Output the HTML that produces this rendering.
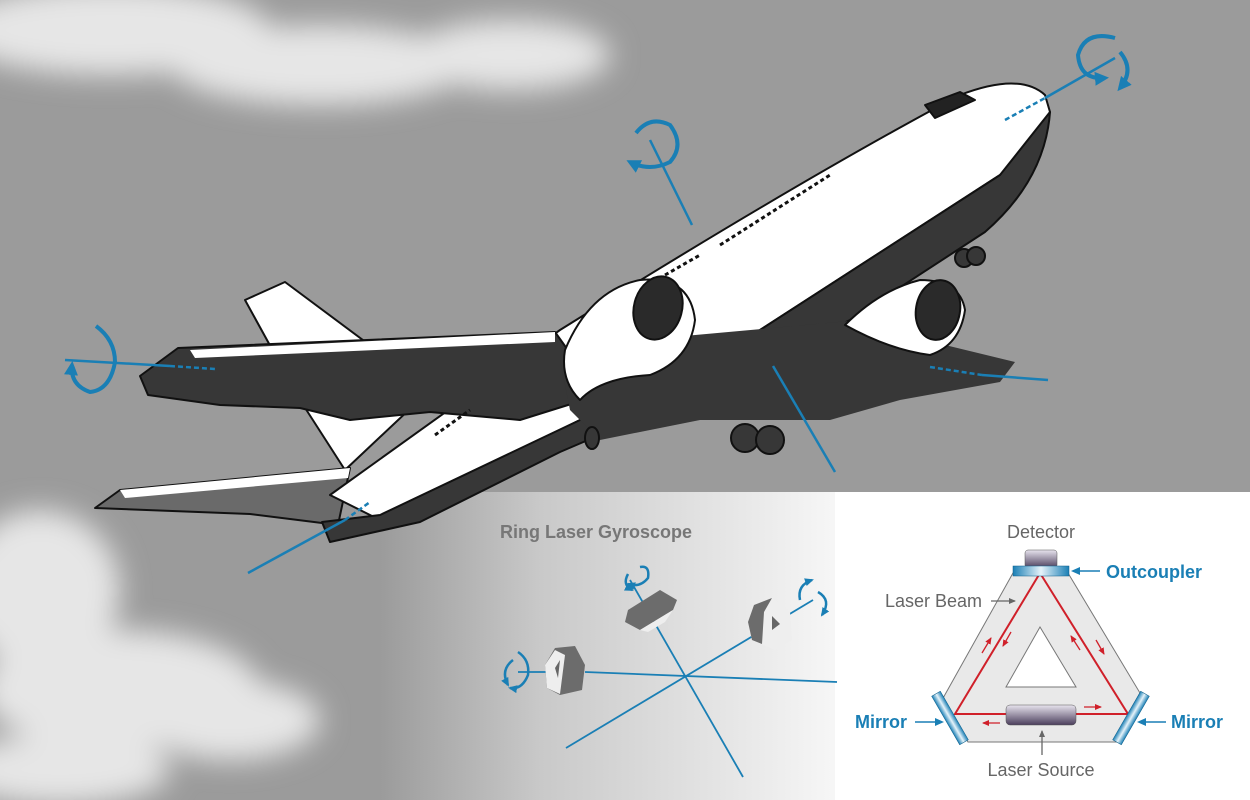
<!DOCTYPE html>
<html><head><meta charset="utf-8"><style>
html,body{margin:0;padding:0;width:1250px;height:800px;overflow:hidden;background:#9b9b9b;}
svg{display:block}
</style></head><body>
<svg width="1250" height="800" viewBox="0 0 1250 800" xmlns="http://www.w3.org/2000/svg" font-family="Liberation Sans, sans-serif">
<defs>
<filter id="bl" x="-50%" y="-50%" width="200%" height="200%"><feGaussianBlur stdDeviation="14"/></filter>
<linearGradient id="pan" x1="380" y1="0" x2="840" y2="0" gradientUnits="userSpaceOnUse">
<stop offset="0" stop-color="#9b9b9b"/><stop offset="0.35" stop-color="#c9c9c9"/><stop offset="1" stop-color="#f7f7f7"/></linearGradient>
<linearGradient id="blu" x1="0" y1="0" x2="1" y2="0"><stop offset="0" stop-color="#1a7fb5"/><stop offset="0.5" stop-color="#e6f3fa"/><stop offset="1" stop-color="#1a7fb5"/></linearGradient>
<linearGradient id="pur" x1="0" y1="0" x2="0" y2="1"><stop offset="0" stop-color="#e8e4ee"/><stop offset="1" stop-color="#4b3e5c"/></linearGradient>
<marker id="ah" markerUnits="userSpaceOnUse" markerWidth="16" markerHeight="16" refX="10" refY="8" orient="auto"><path d="M0,1 L14,8 L0,15 Z" fill="#1a7fb5"/></marker>
<marker id="ahs" markerUnits="userSpaceOnUse" markerWidth="10" markerHeight="10" refX="7" refY="5" orient="auto"><path d="M0,1 L9,5 L0,9 Z" fill="#1a7fb5"/></marker>
<marker id="ag" markerUnits="userSpaceOnUse" markerWidth="8" markerHeight="8" refX="6" refY="4" orient="auto"><path d="M0,1 L7,4 L0,7 Z" fill="#666"/></marker>
<marker id="ar" markerUnits="userSpaceOnUse" markerWidth="8" markerHeight="8" refX="6" refY="4" orient="auto"><path d="M0,1 L7,4 L0,7 Z" fill="#d0202a"/></marker>
</defs>
<g filter="url(#bl)" fill="#e6e6e6">
<ellipse cx="110" cy="30" rx="160" ry="45"/><ellipse cx="320" cy="65" rx="150" ry="40"/><ellipse cx="510" cy="55" rx="100" ry="35"/>
<ellipse cx="40" cy="590" rx="80" ry="80"/><ellipse cx="120" cy="690" rx="140" ry="60"/><ellipse cx="230" cy="720" rx="90" ry="40"/><ellipse cx="60" cy="770" rx="110" ry="35"/>
</g>
<rect x="380" y="492" width="870" height="308" fill="url(#pan)"/>
<rect x="835" y="492" width="415" height="308" fill="#fff"/>

<g stroke="#111" stroke-width="2" stroke-linejoin="round">
<polygon points="245,300 285,282 430,390 345,470 300,400" fill="#fff"/>
<polygon points="95,508 120,490 350,468 338,525 250,514" fill="#6a6a6a"/>
<polygon points="120,490 350,468 348,478 125,498" fill="#fff" stroke="none"/>
<path d="M330,495 L560,330 Q800,180 960,95 Q1020,72 1045,95 L1050,112 Q1040,140 1000,175 L760,330 L580,420 L380,520 Z" fill="#fff"/>
<path d="M1050,112 Q1045,180 985,232 L850,320 L700,392 L560,452 L420,522 L330,542 L322,522 L380,515 L580,420 L760,330 L1000,175 Z" fill="#373737"/>
<polygon points="140,376 178,348 555,332 600,395 520,420 430,412 350,420 300,408 220,405 148,395" fill="#373737"/>
<polygon points="190,350 555,332 555,342 195,358" fill="#fff" stroke="none"/>
<polygon points="560,360 640,340 860,320 945,345 1015,362 1000,382 900,400 830,420 700,420 600,440 570,410" fill="#373737" stroke="none"/>
<path d="M565,350 Q590,290 640,280 Q690,275 695,320 Q690,360 650,375 Q600,378 580,400 Q560,380 565,350 Z" fill="#fff"/>
<ellipse cx="658" cy="308" rx="24" ry="32" fill="#2a2a2a" transform="rotate(15 658 308)"/>
<path d="M845,325 Q880,290 920,280 Q960,280 965,310 Q960,345 930,355 Q890,350 845,325 Z" fill="#fff"/>
<ellipse cx="938" cy="310" rx="22" ry="30" fill="#2a2a2a" transform="rotate(10 938 310)"/>
<circle cx="745" cy="438" r="14" fill="#373737"/><circle cx="770" cy="440" r="14" fill="#373737"/>
<circle cx="964" cy="258" r="9" fill="#373737"/><circle cx="976" cy="256" r="9" fill="#373737"/>
<ellipse cx="592" cy="438" rx="7" ry="11" fill="#373737"/>
<path d="M925,105 L960,92 L975,100 L935,118 Z" fill="#222"/>
</g>
<g stroke="#111" stroke-width="3" stroke-dasharray="4 3">
<line x1="720" y1="245" x2="830" y2="175"/><line x1="665" y1="275" x2="700" y2="255"/><line x1="435" y1="435" x2="470" y2="410"/>
</g>

<g stroke="#1a7fb5" stroke-width="2.5" fill="none">
<line x1="1045" y1="98" x2="1115" y2="58"/>
<line x1="1005" y1="120" x2="1045" y2="98" stroke-dasharray="5 3"/>
<line x1="650" y1="140" x2="692" y2="225"/>
<line x1="65" y1="360" x2="170" y2="366"/>
<line x1="170" y1="366" x2="215" y2="369" stroke-dasharray="5 3"/>
<line x1="930" y1="367" x2="982" y2="375" stroke-dasharray="5 3"/>
<line x1="982" y1="375" x2="1048" y2="380"/>
<line x1="345" y1="520" x2="370" y2="502" stroke-dasharray="5 3"/>
<line x1="248" y1="573" x2="345" y2="520"/>
<line x1="773" y1="366" x2="835" y2="472"/>
</g>
<g stroke="#1a7fb5" stroke-width="4" fill="none" marker-end="url(#ah)">
<path d="M1115,38 Q1085,30 1078,55 Q1080,80 1105,78"/>
<path d="M1120,52 Q1135,70 1120,88"/>
<path d="M636,133 Q650,115 670,125 Q685,145 670,162 Q650,172 630,162"/>
<path d="M96,326 Q115,340 115,362 Q110,390 90,392 Q70,385 72,365"/>
</g>

<text x="500" y="538" font-size="18" font-weight="bold" fill="#777">Ring Laser Gyroscope</text>
<g stroke="#1a7fb5" stroke-width="1.8" fill="none">
<line x1="585" y1="672" x2="837" y2="682"/>
<line x1="566" y1="748" x2="813" y2="600"/>
<line x1="630" y1="580" x2="743" y2="777"/>
<line x1="518" y1="672" x2="560" y2="672"/>
</g>
<g stroke="#1a7fb5" stroke-width="2.5" fill="none" marker-end="url(#ahs)">
<path d="M640,567 Q650,565 648,578 Q640,588 628,584"/>
<path d="M628,574 Q622,585 632,590"/>
<path d="M518,652 Q530,660 528,675 Q522,690 510,688"/>
<path d="M513,660 Q500,670 508,685"/>
<path d="M800,600 Q797,585 812,580"/>
<path d="M818,592 Q832,600 822,615"/>
</g>
<polygon points="555,648 575,646 585,665 582,690 560,695 547,688 545,665" fill="#6c6c6c"/>
<polygon points="545,665 555,650 565,655 560,694 547,688" fill="#eee"/>
<polygon points="555,668 560,660 558,678" fill="#666"/>
<polygon points="628,610 660,590 677,600 673,610 640,630 625,622" fill="#6c6c6c"/>
<polygon points="640,630 673,610 665,622 648,632" fill="#eee"/>
<polygon points="754,605 772,598 790,612 792,640 775,650 752,640 748,622" fill="#eee"/>
<polygon points="748,622 754,605 772,598 764,612 762,644 752,640" fill="#6c6c6c"/>
<polygon points="772,616 780,624 772,630" fill="#666"/>

<polygon points="1013,573 1068,573 1140,693 1117,742 968,742 942,700" fill="#e9e9e9" stroke="#777" stroke-width="1"/>
<polygon points="1040,627 1006,687 1076,687" fill="#fff" stroke="#777" stroke-width="1"/>
<polygon points="1040,573 955,714 1128,714" fill="none" stroke="#d0202a" stroke-width="2"/>
<rect x="1025" y="550" width="32" height="18" rx="3" fill="url(#pur)" stroke="#555" stroke-width="0.5"/>
<rect x="1013" y="566" width="56" height="10" fill="url(#blu)" stroke="#0e5f8a" stroke-width="0.5"/>
<rect x="1006" y="705" width="70" height="20" rx="4" fill="url(#pur)" stroke="#555" stroke-width="0.5"/>
<rect x="945" y="690" width="10" height="56" fill="url(#blu)" transform="rotate(-30 950 718)" stroke="#0e5f8a" stroke-width="0.5"/>
<rect x="1126" y="690" width="10" height="56" fill="url(#blu)" transform="rotate(30 1131 718)" stroke="#0e5f8a" stroke-width="0.5"/>
<g stroke="#d0202a" stroke-width="1.3" marker-end="url(#ar)">
<line x1="982" y1="653" x2="991" y2="638"/><line x1="1011" y1="632" x2="1003" y2="646"/>
<line x1="1080" y1="650" x2="1071" y2="636"/><line x1="1096" y1="640" x2="1104" y2="654"/>
<line x1="1084" y1="707" x2="1101" y2="707"/><line x1="1000" y1="723" x2="983" y2="723"/>
</g>
<g stroke="#666" stroke-width="1.3" marker-end="url(#ag)">
<line x1="991" y1="601" x2="1015" y2="601"/>
<line x1="1042" y1="755" x2="1042" y2="731"/>
</g>
<g stroke="#1a7fb5" stroke-width="1.5" marker-end="url(#ahs)">
<line x1="1100" y1="571" x2="1073" y2="571"/>
<line x1="915" y1="722" x2="942" y2="722"/>
<line x1="1166" y1="722" x2="1139" y2="722"/>
</g>
<text x="1041" y="538" font-size="18" fill="#666" text-anchor="middle">Detector</text>
<text x="1106" y="578" font-size="18" font-weight="bold" fill="#1a7fb5">Outcoupler</text>
<text x="885" y="607" font-size="18" fill="#666">Laser Beam</text>
<text x="855" y="728" font-size="18" font-weight="bold" fill="#1a7fb5">Mirror</text>
<text x="1171" y="728" font-size="18" font-weight="bold" fill="#1a7fb5">Mirror</text>
<text x="1041" y="776" font-size="18" fill="#666" text-anchor="middle">Laser Source</text>
</svg>
</body></html>
